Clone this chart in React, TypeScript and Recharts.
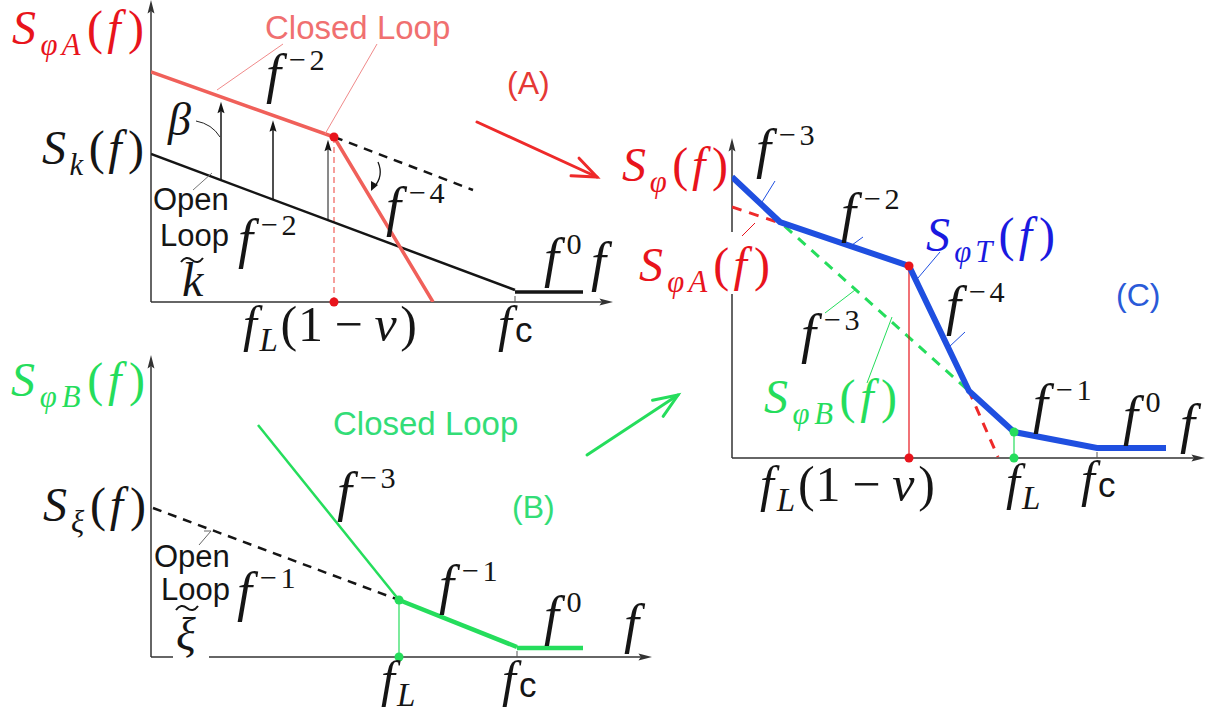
import { LineChart, Line, XAxis, YAxis, ReferenceLine, ReferenceDot } from "recharts";

type Pt = { x: number; y: number };

// (A) closed-loop S_phiA against the open-loop S_k (log f right, log S up)
const closedLoopA: Pt[] = [{ x: 0, y: 230 }, { x: 183, y: 165 }, { x: 282, y: 0 }];
const openLoopA: Pt[] = [{ x: 0, y: 148 }, { x: 364, y: 12 }];
const floorA: Pt[] = [{ x: 364, y: 10 }, { x: 432, y: 10 }];
const extrapA: Pt[] = [{ x: 183, y: 165 }, { x: 322, y: 112 }];
const liftA = [70, 122, 177];
const kneeA: Pt = { x: 183, y: 165 };
const fcA = 364;

// (B) closed-loop S_phiB against the open-loop S_xi
const steepB: Pt[] = [{ x: 107, y: 232 }, { x: 248, y: 57 }];
const midB: Pt[] = [{ x: 248, y: 57 }, { x: 366, y: 10 }];
const floorB: Pt[] = [{ x: 366, y: 9 }, { x: 432, y: 9 }];
const openLoopB: Pt[] = [{ x: 2, y: 149 }, { x: 248, y: 57 }];
const kneeB: Pt = { x: 248, y: 57 };
const fcB = 366;

// (C) total S_phiT = upper envelope of A and B
const partAC: Pt[] = [{ x: 0, y: 251 }, { x: 177, y: 192 }, { x: 237, y: 67 }, { x: 266, y: 1 }];
const partBC: Pt[] = [{ x: 0, y: 281 }, { x: 48, y: 236 }, { x: 237, y: 67 }, { x: 282, y: 26 }, { x: 365, y: 10 }, { x: 434, y: 10 }];
const totalC: Pt[] = [{ x: 0, y: 281 }, { x: 48, y: 236 }, { x: 177, y: 192 }, { x: 237, y: 67 }, { x: 282, y: 26 }, { x: 365, y: 10 }, { x: 434, y: 10 }];
const kneeAC: Pt = { x: 177, y: 192 };
const kneeBC: Pt = { x: 282, y: 26 };
const fcC = 365;

const SERIF = "'Liberation Serif', 'DejaVu Serif', serif";
const SANS = "'Liberation Sans', Arial, sans-serif";
const RED = "#e8141c";
const RED_LINE = "#f0605a";
const GREEN = "#25dd5c";
const BLUE = "#1f4fe0";
const INK = "#151515";

const at = (pts: Pt[], x: number) => {
  for (let i = 1; i < pts.length; i++) {
    const a = pts[i - 1], b = pts[i];
    if (x <= b.x) return a.y + ((x - a.x) * (b.y - a.y)) / (b.x - a.x);
  }
  return pts[pts.length - 1].y;
};

// reference-line shape: a line with a filled arrow head at its end
const arrow = (color: string, width: number, head = 13, spread = 0.28) => (p: any) => {
  const { x1, y1, x2, y2 } = p;
  const a = Math.atan2(y2 - y1, x2 - x1);
  const bx = x2 - head * 0.8 * Math.cos(a), by = y2 - head * 0.8 * Math.sin(a);
  const lx = x2 - head * Math.cos(a - spread), ly = y2 - head * Math.sin(a - spread);
  const rx = x2 - head * Math.cos(a + spread), ry = y2 - head * Math.sin(a + spread);
  return (
    <g>
      <line x1={x1} y1={y1} x2={bx} y2={by} stroke={color} strokeWidth={width} />
      <path d={`M${x2},${y2}L${lx},${ly}L${bx},${by}L${rx},${ry}Z`} fill={color} />
    </g>
  );
};

const PAD = 20;

function Panel({ left, bottom, w, h, children }: { left: number; bottom: number; w: number; h: number; children: any }) {
  return (
    <div style={{ position: "absolute", left: left - PAD, top: bottom - h - PAD }}>
      <LineChart width={w + 2 * PAD} height={h + 2 * PAD} margin={{ top: PAD, right: PAD, bottom: PAD, left: PAD }}>
        <XAxis type="number" dataKey="x" domain={[0, w]} allowDataOverflow hide />
        <YAxis type="number" dataKey="y" domain={[0, h]} allowDataOverflow hide />
        {children}
      </LineChart>
    </div>
  );
}

const seg = (data: Pt[], stroke: string, width: number, dash?: string) => (
  <Line
    data={data}
    dataKey="y"
    type="linear"
    stroke={stroke}
    strokeWidth={width}
    strokeDasharray={dash}
    dot={false}
    activeDot={false}
    isAnimationActive={false}
  />
);

const axes = (xEnd: number, yEnd: number) => [
  <ReferenceLine key="ax" segment={[{ x: 0, y: 0 }, { x: xEnd, y: 0 }]} ifOverflow="visible" shape={arrow("#333", 1.5, 14, 0.25)} />,
  <ReferenceLine key="ay" segment={[{ x: 0, y: 0 }, { x: 0, y: yEnd }]} ifOverflow="visible" shape={arrow("#333", 1.5, 14, 0.25)} />,
];

const tick = (x: number) => (
  <ReferenceLine segment={[{ x, y: 0 }, { x, y: 6 }]} ifOverflow="visible" stroke="#555" strokeWidth={1} />
);

const dot = (p: Pt, fill: string) => <ReferenceDot x={p.x} y={p.y} r={4.5} fill={fill} stroke="none" ifOverflow="visible" />;

type TP = { x: number; y: number; w?: number; size?: number };
const fit = (w?: number) => (w ? { textLength: w, lengthAdjust: "spacing" } : {});

function Spec({ x, y, sub, fill, size = 48, w }: TP & { sub: string; fill: string }) {
  return (
    <text x={x} y={y} fill={fill} fontFamily={SERIF} fontSize={size} {...fit(w)}>
      <tspan fontStyle="italic">S</tspan>
      <tspan fontStyle="italic" fontSize={size * 0.64} dy={size * 0.22}>{sub}</tspan>
      <tspan dy={-size * 0.22} dx={size * 0.04}>(</tspan>
      <tspan fontStyle="italic">f</tspan>
      <tspan dx={size * 0.06}>)</tspan>
    </text>
  );
}

function Pow({ x, y, exp, size = 54 }: TP & { exp: string }) {
  return (
    <text x={x} y={y} fill={INK} fontFamily={SERIF} fontSize={size}>
      <tspan fontStyle="italic">f</tspan>
      <tspan fontSize={size * 0.56} dx={size * 0.14} dy={-size * 0.4} letterSpacing={4}>{exp}</tspan>
    </text>
  );
}

function FL({ x, y, nu, size = 50, w }: TP & { nu?: boolean }) {
  return (
    <text x={x} y={y} fill={INK} fontFamily={SERIF} fontSize={size} {...fit(w)}>
      <tspan fontStyle="italic">f</tspan>
      <tspan fontStyle="italic" fontSize={size * 0.66} dx={2} dy={size * 0.2}>L</tspan>
      {nu && (
        <>
          <tspan dy={-size * 0.2} dx={2}>(1</tspan>
          <tspan dx={size * 0.22}>−</tspan>
          <tspan dx={size * 0.22} fontStyle="italic">ν</tspan>
          <tspan dx={3}>)</tspan>
        </>
      )}
    </text>
  );
}

function FC({ x, y, size = 50 }: TP) {
  return (
    <text x={x} y={y} fill={INK} fontFamily={SERIF} fontSize={size}>
      <tspan fontStyle="italic">f</tspan>
      <tspan fontFamily={SANS} fontSize={size * 0.7} dx={3} dy={size * 0.02}>c</tspan>
    </text>
  );
}

const F = ({ x, y }: TP) => (
  <text x={x} y={y} fill={INK} fontFamily={SERIF} fontSize={54} fontStyle="italic">f</text>
);

const Word = ({ x, y, t, fill = INK, size = 31 }: TP & { t: string; fill?: string }) => (
  <text x={x} y={y} fill={fill} fontFamily={SANS} fontSize={size}>{t}</text>
);

const BigArrow = ({ x1, y1, x2, y2, color }: { x1: number; y1: number; x2: number; y2: number; color: string }) => {
  const a = Math.atan2(y2 - y1, x2 - x1);
  const h = 26, s = 0.38;
  return (
    <g stroke={color} strokeWidth={3} fill="none" strokeLinecap="round">
      <line x1={x1} y1={y1} x2={x2} y2={y2} />
      <path d={`M${x2 - h * Math.cos(a - s)},${y2 - h * Math.sin(a - s)}L${x2},${y2}L${x2 - h * Math.cos(a + s)},${y2 - h * Math.sin(a + s)}`} />
    </g>
  );
};

function Labels() {
  const thin = { strokeWidth: 1, fill: "none" };
  return (
    <svg width={1216} height={713} style={{ position: "absolute", left: 0, top: 0, pointerEvents: "none" }}>
      {/* (A) */}
      <Spec x={12} y={44} sub="φA" fill={RED} w={132} />
      <Word x={265} y={39} t="Closed Loop" fill="#f07070" size={33} />
      <line x1={283} y1={44} x2={217} y2={90} stroke="#f08a8a" {...thin} />
      <line x1={377} y1={44} x2={325} y2={134} stroke="#f08a8a" {...thin} />
      <Pow x={266} y={92} exp="−2" />
      <text x={168} y={135} fill={INK} fontFamily={SERIF} fontSize={46} fontStyle="italic">β</text>
      <path d="M196,121 Q212,124 220,137" stroke="#222" {...thin} />
      <Spec x={42} y={164} sub="k" fill={INK} w={102} />
      <Word x={153} y={210} t="Open" />
      <Word x={160} y={246} t="Loop" />
      <line x1={193} y1={190} x2={212} y2={173} stroke="#777" {...thin} />
      <Pow x={238} y={257} exp="−2" />
      <text x={182} y={296} fill={INK} fontFamily={SERIF} fontSize={48} fontStyle="italic">k</text>
      <path d="M181,262 q5,-7 11,-2 t11,-2" stroke={INK} strokeWidth={2} fill="none" />
      <Pow x={386} y={225} exp="−4" />
      <path d="M378,162 Q384,176 374,187" stroke={INK} strokeWidth={1.3} fill="none" />
      <path d="M371,191 L371,181 L378,185 Z" fill={INK} />
      <Pow x={544} y={276} exp="0" />
      <F x={591} y={280} />
      <FL x={243} y={341} nu w={174} />
      <FC x={498} y={341} />
      <Word x={507} y={94} t="(A)" fill="#e53935" size={32} />
      <BigArrow x1={477} y1={122} x2={597} y2={177} color="#ee2a2a" />

      {/* (B) */}
      <Spec x={11} y={396} sub="φB" fill={GREEN} w={134} />
      <Spec x={43} y={521} sub="ξ" fill={INK} w={103} />
      <Word x={333} y={435} t="Closed Loop" fill="#33dd77" size={33} />
      <Pow x={337} y={510} exp="−3" />
      <Word x={512} y={518} t="(B)" fill="#33dd77" size={32} />
      <BigArrow x1={587} y1={455} x2={678} y2={395} color={GREEN} />
      <Word x={154} y={567} t="Open" />
      <Word x={161} y={600} t="Loop" />
      <path d="M199,545 L211,531 L204,531" stroke="#666" {...thin} />
      <Pow x={237} y={610} exp="−1" />
      <rect x={173} y={648} width={36} height={14} fill="#fff" />
      <text x={176} y={650} fill={INK} fontFamily={SERIF} fontSize={46} fontStyle="italic">ξ</text>
      <path d="M176,610 q5,-7 11,-2 t11,-2" stroke={INK} strokeWidth={2} fill="none" />
      <Pow x={439} y={603} exp="−1" />
      <Pow x={544} y={634} exp="0" />
      <F x={624} y={642} />
      <FL x={381} y={696} />
      <FC x={502} y={696} />

      {/* (C) */}
      <Spec x={622} y={181} sub="φ" fill={RED} w={106} />
      <Pow x={756} y={167} exp="−3" />
      <line x1={775} y1={181} x2={762} y2={202} stroke={BLUE} {...thin} />
      <rect x={636} y={232} width={136} height={62} fill="#fff" />
      <Spec x={639} y={281} sub="φA" fill={RED} w={131} />
      <line x1={742} y1={236} x2={755} y2={223} stroke={RED} {...thin} />
      <Pow x={841} y={231} exp="−2" />
      <line x1={852} y1={245} x2={863} y2={237} stroke={BLUE} {...thin} />
      <Spec x={926} y={251} sub="φT" fill="#1a1ae0" w={129} />
      <line x1={918} y1={278} x2={940} y2={252} stroke={BLUE} {...thin} />
      <Pow x={946} y={324} exp="−4" />
      <line x1={949} y1={347} x2={965} y2={332} stroke={BLUE} {...thin} />
      <Word x={1116} y={306} t="(C)" fill="#2a5ad8" size={32} />
      <Pow x={801} y={352} exp="−3" />
      <line x1={825} y1={313} x2={855} y2={290} stroke={GREEN} {...thin} />
      <line x1={867} y1={383} x2={892} y2={317} stroke={GREEN} {...thin} />
      <Spec x={764} y={413} sub="φB" fill={GREEN} w={133} />
      <Pow x={1033} y={422} exp="−1" />
      <Pow x={1123} y={434} exp="0" />
      <F x={1180} y={442} />
      <FL x={760} y={501} nu w={175} />
      <FL x={1006} y={499} />
      <FC x={1081} y={496} />
    </svg>
  );
}

export default function App() {
  return (
    <div style={{ position: "absolute", left: 0, top: 0, width: 1216, height: 713, background: "#fff", overflow: "hidden" }}>
      <Panel left={151} bottom={302} w={470} h={302}>
        {axes(462, 302)}
        {tick(fcA)}
        {seg(extrapA, INK, 2.5, "9 7")}
        <ReferenceLine segment={[kneeA, { x: kneeA.x, y: 0 }]} ifOverflow="visible" stroke={RED_LINE} strokeWidth={1.2} strokeDasharray="6 4" />
        {liftA.map((x, i) => (
          <ReferenceLine
            key={x}
            segment={[{ x, y: at(openLoopA, x) }, { x, y: at(closedLoopA, x) - 5 }]}
            ifOverflow="visible"
            shape={arrow(INK, i === liftA.length - 1 ? 1 : 1.5, 12, 0.3)}
          />
        ))}
        {seg(openLoopA, INK, 2.5)}
        {seg(floorA, INK, 3.5)}
        {seg(closedLoopA, RED_LINE, 3.5)}
        {dot(kneeA, RED)}
        {dot({ x: kneeA.x, y: 0 }, RED)}
      </Panel>

      <Panel left={151} bottom={657} w={505} h={302}>
        {axes(501, 302)}
        {tick(fcB)}
        {seg(openLoopB, INK, 2.5, "9 7")}
        <ReferenceLine segment={[kneeB, { x: kneeB.x, y: 0 }]} ifOverflow="visible" stroke={GREEN} strokeWidth={1.2} />
        {seg(steepB, GREEN, 2.5)}
        {seg(midB, GREEN, 4.5)}
        {seg(floorB, GREEN, 4.5)}
        {dot(kneeB, GREEN)}
        {dot({ x: kneeB.x, y: 0 }, GREEN)}
      </Panel>

      <Panel left={732} bottom={458} w={480} h={320}>
        {axes(473, 320)}
        {tick(fcC)}
        {seg(partAC, "#ee2a2a", 3, "10 8")}
        {seg(partBC, GREEN, 3, "10 8")}
        <ReferenceLine segment={[kneeAC, { x: kneeAC.x, y: 0 }]} ifOverflow="visible" stroke={RED} strokeWidth={1.2} />
        <ReferenceLine segment={[kneeBC, { x: kneeBC.x, y: 0 }]} ifOverflow="visible" stroke={GREEN} strokeWidth={1.2} />
        {seg(totalC, BLUE, 6)}
        {dot(kneeAC, RED)}
        {dot({ x: kneeAC.x, y: 0 }, RED)}
        {dot(kneeBC, GREEN)}
        {dot({ x: kneeBC.x, y: 0 }, GREEN)}
      </Panel>

      <Labels />
    </div>
  );
}
